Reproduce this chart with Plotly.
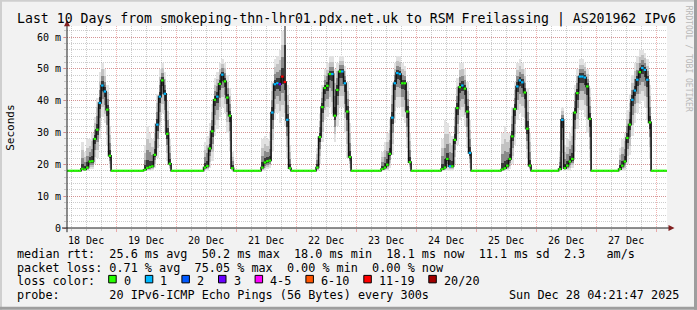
import plotly.graph_objects as go
from datetime import datetime, timedelta

# ---------------- data ----------------
title_text = "Last 10 Days from smokeping-thn-lhr01.pdx.net.uk to RSM Freilassing | AS201962 IPv6"
range_start = "2025-12-18 04:21:47"
range_end = "2025-12-28 04:21:47"
baseline_ms = 18.0

peak_days = ["2025-12-18", "2025-12-19", "2025-12-20", "2025-12-21", "2025-12-22",
             "2025-12-23", "2025-12-24", "2025-12-25", "2025-12-26", "2025-12-27"]
peak_first_hour = [10, 11, 11, 10, 8, 10, 10, 10, 9, 9]

peak_median = [
    [18.6, 18.4, 19.0, 20.9, 21.0, 28.0, 30.9, 39.3, 44.8, 42.9, 37.2, 22.7],
    [18.3, 18.9, 19.2, 19.4, 23.0, 32.5, 41.3, 46.4, 42.2, 29.6, 20.2],
    [19.0, 19.5, 25.0, 30.4, 40.3, 41.3, 45.3, 48.2, 46.1, 41.0, 35.3, 18.8],
    [19.0, 20.6, 21.0, 21.2, 36.3, 45.2, 45.5, 45.2, 47.6, 45.9, 34.0, 18.8],
    [19.0, 28.6, 38.0, 44.0, 44.7, 48.4, 48.4, 35.3, 43.4, 49.2, 49.2, 45.5, 36.6, 22.3],
    [18.5, 19.0, 19.9, 23.3, 34.7, 45.5, 48.7, 48.4, 45.5, 45.5, 36.6, 20.7],
    [18.5, 19.0, 21.7, 19.4, 19.4, 27.7, 37.7, 44.3, 44.8, 43.8, 36.6, 23.6],
    [18.4, 18.8, 19.6, 21.7, 28.8, 37.4, 44.5, 46.4, 45.8, 42.6, 31.2, 19.6],
    [18.5, 34.0, 18.8, 19.6, 20.9, 21.7, 36.3, 42.4, 47.6, 47.6, 47.3, 44.5, 34.3],
    [18.5, 19.6, 20.9, 28.3, 32.5, 40.3, 43.2, 46.6, 49.0, 50.3, 49.7, 46.6, 33.2],
]
peak_low = [
    [18, 18, 18, 18.5, 18.5, 20, 22, 28, 35, 33, 26, 19],
    [18, 18, 18, 18, 19, 22, 30, 36, 30, 21, 18.5],
    [18, 18, 19, 21, 29, 31, 35, 38, 36, 30, 24, 18],
    [18, 18, 18.5, 19, 24, 34, 36, 33, 35, 32, 22, 18],
    [18, 20, 27, 34, 35, 38, 36, 27, 32, 38, 38, 30, 22, 19],
    [18, 18, 18, 19, 23, 33, 38, 38, 35, 33, 25, 18.5],
    [18, 18, 18, 18, 18, 20, 26, 34, 35, 32, 25, 19],
    [18, 18, 18, 18.5, 20, 26, 34, 36, 35, 31, 22, 18],
    [18, 19, 18, 18, 18, 19, 24, 31, 37, 37, 35, 30, 21],
    [18, 18, 18, 20, 23, 29, 33, 36, 39, 40, 38, 34, 22],
]
peak_high = [
    [27, 24, 28, 28, 30, 35, 41, 49, 52, 50, 45, 32],
    [26, 32, 30, 28, 33, 42, 50, 52, 49, 40, 28],
    [27, 29, 33, 39, 47, 49, 52, 53, 52, 48, 44, 24],
    [28, 29, 28, 30, 46, 53, 54, 56, 62, 110, 45, 26],
    [25, 36, 45, 50, 52, 54, 54, 50, 52, 54, 54, 51, 46, 33],
    [24, 27, 30, 34, 45, 52, 54, 54, 52, 51, 46, 30],
    [28, 34, 33, 30, 29, 38, 47, 52, 52, 50, 46, 34],
    [30, 32, 30, 30, 38, 46, 52, 53, 52, 50, 44, 30],
    [24, 38, 26, 28, 30, 32, 45, 50, 53, 53, 52, 50, 44],
    [25, 28, 30, 37, 42, 48, 52, 54, 56, 56, 55, 53, 45],
]
# index into loss_labels
peak_loss = [
    [0, 0, 0, 0, 0, 0, 0, 1, 1, 1, 0, 0],
    [0, 0, 0, 0, 0, 1, 1, 0, 1, 0, 0],
    [0, 0, 0, 0, 0, 1, 0, 1, 0, 0, 0, 0],
    [0, 0, 0, 0, 1, 1, 1, 3, 6, 6, 1, 0],
    [0, 0, 0, 0, 0, 0, 1, 0, 0, 0, 1, 1, 0, 0],
    [0, 0, 0, 0, 1, 1, 1, 1, 0, 0, 0, 0],
    [0, 0, 0, 1, 0, 0, 0, 0, 1, 0, 0, 1],
    [0, 0, 0, 0, 0, 0, 1, 1, 1, 0, 0, 0],
    [0, 1, 0, 0, 0, 0, 0, 0, 1, 1, 1, 0, 0],
    [0, 0, 0, 0, 0, 1, 1, 1, 0, 1, 1, 1, 0],
]

loss_labels = ["0", "1", "2", "3", "4-5", "6-10", "11-19", "20/20"]
loss_colors = ["#26ff00", "#00b8ff", "#0059ff", "#6a00ff", "#ff00ff", "#ff5500", "#ff0000", "#a10000"]

y_tick_vals = [0, 10, 20, 30, 40, 50, 60]
y_tick_text = ["0", "10 m", "20 m", "30 m", "40 m", "50 m", "60 m"]

legend_rows = [
    "median rtt:  25.6 ms avg  50.2 ms max  18.0 ms min  18.1 ms now  11.1 ms sd  2.3   am/s",
    "packet loss: 0.71 % avg  75.05 % max  0.00 % min  0.00 % now",
    "loss color:",
    "probe:       20 IPv6-ICMP Echo Pings (56 Bytes) every 300s",
]
timestamp_text = "Sun Dec 28 04:21:47 2025"
watermark = "RRDTOOL / TOBI OETIKER"

# ---------------- styling ----------------
FONT = "DejaVu Sans Mono"
BACK = "#f2f2f2"
GRID = "rgba(143,143,143,0.45)"
MGRID = "rgba(222,79,79,0.45)"
ARROW = "#801f1f"
AXIS = "#1f1f1f"
band_fraction = [1.0, 0.7, 0.42, 0.18]
band_color = ["#e2e2e2", "#c2c2c2", "#8a8a8a", "#3a3a3a"]

W, H = 697, 310
PL, PR, PT, PB = 67, 667, 26.2, 228.3   # plot area in pixels


def X(px):
    return (px - PL) / (PR - PL)


def Y(py):
    return (PB - py) / (PB - PT)


# ---------------- build hourly series ----------------
HOUR = timedelta(hours=1)
t0 = datetime(2025, 12, 18, 4)
n = 241
times = [t0 + i * HOUR for i in range(n)]
median = [baseline_ms] * n
low = [baseline_ms] * n
high = [baseline_ms] * n
loss = [0] * n
for day, h0, meds, los, his, ls in zip(peak_days, peak_first_hour, peak_median,
                                       peak_low, peak_high, peak_loss):
    d0 = datetime.fromisoformat(day)
    for j in range(len(meds)):
        i = int(round(((d0 + (h0 + j) * HOUR) - t0) / HOUR))
        median[i], low[i], high[i], loss[i] = meds[j], los[j], his[j], ls[j]

fig = go.Figure()

# smoke
idx = [i for i in range(n) if high[i] > low[i]]
for f, col in zip(band_fraction, band_color):
    lo_b = [median[i] - f * (median[i] - low[i]) for i in idx]
    hi_b = [median[i] + f * (high[i] - median[i]) for i in idx]
    fig.add_trace(go.Bar(
        x=[times[i] + HOUR / 2 for i in idx],
        y=[h - l for h, l in zip(hi_b, lo_b)],
        base=lo_b, width=3600000,
        marker=dict(color=col, line=dict(width=0)),
        hoverinfo="skip"))

# median connector
fig.add_trace(go.Scatter(
    x=times + [times[-1] + HOUR], y=median + [median[-1]],
    mode="lines", line=dict(color="#111111", width=1.6, shape="hv"),
    hoverinfo="skip"))

# median coloured by loss
for k, col in enumerate(loss_colors):
    xs, ys = [], []
    for i in range(n):
        if loss[i] == k:
            xs += [times[i], times[i] + HOUR, None]
            ys += [median[i], median[i], None]
    if xs:
        fig.add_trace(go.Scatter(x=xs, y=ys, mode="lines",
                                 line=dict(color=col, width=2.2),
                                 hoverinfo="skip"))

# ---------------- decorations ----------------
shapes = []
# 3D border
shapes.append(dict(type="line", xref="paper", yref="paper", x0=X(0), x1=X(W), y0=Y(1), y1=Y(1),
                   line=dict(color="#cfcfcf", width=2)))
shapes.append(dict(type="line", xref="paper", yref="paper", x0=X(1), x1=X(1), y0=Y(0), y1=Y(H),
                   line=dict(color="#cfcfcf", width=2)))
shapes.append(dict(type="line", xref="paper", yref="paper", x0=X(0), x1=X(W), y0=Y(H - 1.5), y1=Y(H - 1.5),
                   line=dict(color="#9e9e9e", width=3)))
shapes.append(dict(type="line", xref="paper", yref="paper", x0=X(W - 1.5), x1=X(W - 1.5), y0=Y(0), y1=Y(H),
                   line=dict(color="#9e9e9e", width=3)))
# axes
shapes.append(dict(type="line", xref="paper", yref="paper", x0=X(62), x1=X(670), y0=0, y1=0,
                   line=dict(color=AXIS, width=1)))
shapes.append(dict(type="line", xref="paper", yref="paper", x0=0, x1=0, y0=Y(232.5), y1=Y(24),
                   line=dict(color=AXIS, width=1)))
# arrows
shapes.append(dict(type="path", xref="paper", yref="paper",
                   path=f"M {X(674.5)} {Y(PB)} L {X(668.5)} {Y(PB - 3)} L {X(668.5)} {Y(PB + 3)} Z",
                   fillcolor=ARROW, line=dict(width=0)))
shapes.append(dict(type="path", xref="paper", yref="paper",
                   path=f"M {X(PL)} {Y(20.5)} L {X(PL - 3)} {Y(26.5)} L {X(PL + 3)} {Y(26.5)} Z",
                   fillcolor=ARROW, line=dict(width=0)))

annotations = []
annotations.append(dict(text=title_text, xref="paper", yref="paper", x=X(15), y=Y(19.5),
                        xanchor="left", yanchor="middle", showarrow=False,
                        font=dict(family=FONT, size=13.2, color="#000")))
annotations.append(dict(text="Seconds", xref="paper", yref="paper", x=X(11), y=Y(128),
                        xanchor="center", yanchor="middle", showarrow=False, textangle=-90,
                        font=dict(family=FONT, size=11, color="#000")))
annotations.append(dict(text=watermark, xref="paper", yref="paper", x=X(688), y=Y(59),
                        xanchor="center", yanchor="middle", showarrow=False, textangle=90,
                        font=dict(family=FONT, size=8, color="#b8b8b8")))
row_y = [254.3, 268.0, 281.7, 295.7]
for txt, py in zip(legend_rows, row_y):
    annotations.append(dict(text=txt.replace(" ", "&nbsp;"), xref="paper", yref="paper",
                            x=X(15), y=Y(py), xanchor="left", yanchor="middle", showarrow=False,
                            font=dict(family=FONT, size=11.8, color="#000")))
annotations.append(dict(text=timestamp_text, xref="paper", yref="paper", x=X(681), y=Y(row_y[3]),
                        xanchor="right", yanchor="middle", showarrow=False,
                        font=dict(family=FONT, size=11.8, color="#000")))
# loss colour boxes
char_w = 7.1
bx = 108.7
for lab, col in zip(loss_labels, loss_colors):
    shapes.append(dict(type="rect", xref="paper", yref="paper",
                       x0=X(bx), x1=X(bx + 7.5), y0=Y(283.2), y1=Y(275.7),
                       fillcolor=col, line=dict(color="#000", width=1)))
    annotations.append(dict(text=lab, xref="paper", yref="paper", x=X(bx + 13), y=Y(row_y[2]),
                            xanchor="left", yanchor="middle", showarrow=False,
                            font=dict(family=FONT, size=11.8, color="#000")))
    bx += 14 + len(lab) * char_w + 15.5

fig.update_layout(
    width=W, height=H, autosize=False,
    margin=dict(l=PL, r=W - PR, t=PT, b=H - PB),
    paper_bgcolor=BACK, plot_bgcolor="#ffffff",
    showlegend=False, barmode="overlay", bargap=0,
    font=dict(family=FONT, size=10, color="#000"),
    shapes=shapes, annotations=annotations,
    xaxis=dict(type="date", range=[range_start, range_end], tick0="2025-12-18",
               dtick=86400000, tickformat="%d %b", ticklabelmode="period",
               showgrid=True, gridcolor=MGRID, griddash="1px,1px", gridwidth=1,
               ticks="outside", ticklen=3, tickcolor=MGRID, zeroline=False, showline=False,
               tickfont=dict(family=FONT, size=10, color="#000"),
               minor=dict(dtick=21600000, tick0="2025-12-18", showgrid=True, gridcolor=GRID,
                          griddash="1px,1px", ticks="outside", ticklen=2, tickcolor=GRID),
               fixedrange=True),
    yaxis=dict(range=[0, 63.5], tickmode="array", tickvals=y_tick_vals, ticktext=y_tick_text,
               showgrid=True, gridcolor=MGRID, griddash="1px,1px", gridwidth=1,
               ticks="outside", ticklen=3, tickcolor=MGRID, zeroline=False, showline=False,
               tickfont=dict(family=FONT, size=10, color="#000"),
               minor=dict(dtick=2, tick0=0, showgrid=True, gridcolor=GRID, griddash="1px,1px",
                          ticks="outside", ticklen=2, tickcolor=GRID),
               fixedrange=True),
)

fig.write_html("out.html")
